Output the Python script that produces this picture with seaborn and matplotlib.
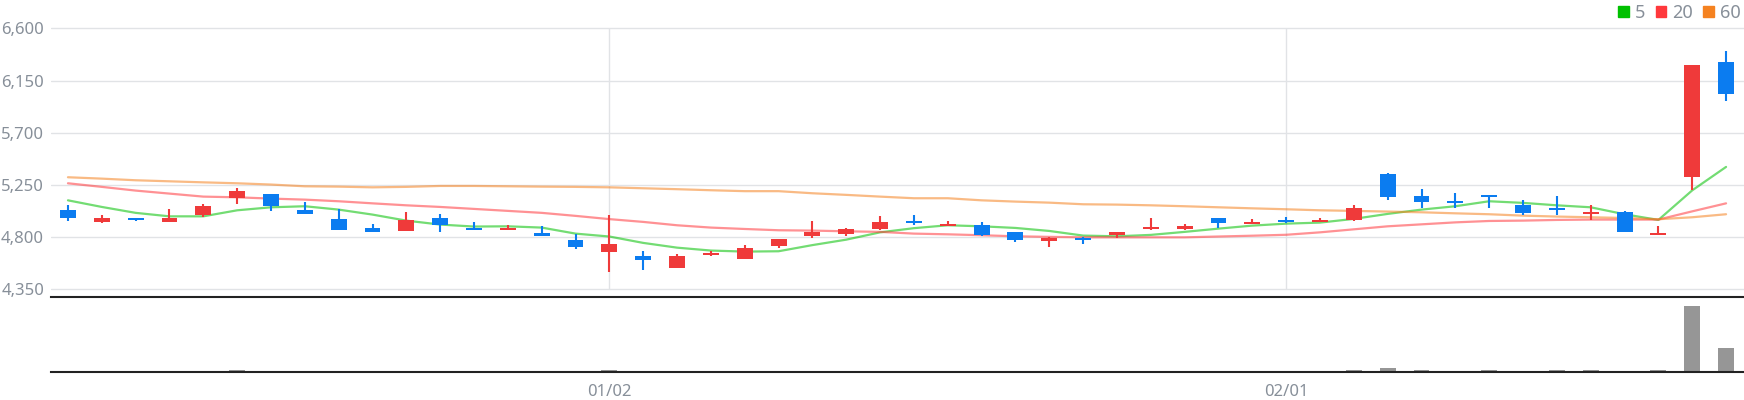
import numpy as np
import pandas as pd
import matplotlib
matplotlib.use('Agg')
import matplotlib.pyplot as plt
import seaborn as sns
from matplotlib.patches import Patch

# daily candles
open_ = [5037, 4928, 4968, 4933, 4994, 5134, 5175, 5037, 4960, 4882,
         4850, 4968, 4873, 4865, 4839, 4778, 4675, 4641, 4531, 4649,
         4615, 4721, 4813, 4830, 4873, 4942, 4893, 4908, 4847, 4770,
         4796, 4822, 4873, 4873, 4968, 4916, 4951, 4934, 4945, 5347,
         5158, 5115, 5166, 5080, 5054, 4997, 5020, 4822, 5316, 6309]
high = [5080, 4994, 4968, 5046, 5089, 5227, 5175, 5106, 5046, 4916,
        5020, 5003, 4934, 4908, 4899, 4830, 4994, 4684, 4650, 4684,
        4735, 4787, 4942, 4882, 4985, 4994, 4942, 4934, 4847, 4804,
        4804, 4847, 4968, 4916, 4968, 4959, 4977, 4968, 5080, 5356,
        5218, 5184, 5166, 5123, 5158, 5080, 5028, 4899, 6284, 6404]
low = [4942, 4919, 4942, 4933, 4971, 5083, 5028, 4997, 4859, 4841,
       4850, 4841, 4859, 4865, 4813, 4701, 4503, 4514, 4531, 4634,
       4615, 4709, 4796, 4813, 4865, 4908, 4893, 4813, 4761, 4718,
       4744, 4796, 4865, 4865, 4882, 4916, 4925, 4934, 4936, 5117,
       5054, 5054, 5054, 4988, 4994, 4951, 4847, 4822, 5209, 5976]
close = [4962, 4968, 4950, 4968, 5072, 5201, 5066, 4997, 4859, 4841,
         4951, 4908, 4859, 4882, 4813, 4712, 4744, 4600, 4641, 4666,
         4709, 4787, 4847, 4873, 4934, 4925, 4908, 4822, 4772, 4796,
         4778, 4847, 4891, 4899, 4925, 4934, 4934, 4951, 5054, 5143,
         5100, 5091, 5143, 5005, 5037, 5014, 4847, 4839, 6284, 6036]
volume = [2000, 2000, 2000, 2000, 2000, 20000, 2000, 2000, 2000, 2000,
          2000, 2000, 2000, 2000, 2000, 2000, 20000, 2000, 2000, 2000,
          2000, 2000, 2000, 2000, 2000, 2000, 2000, 2000, 2000, 2000,
          2000, 2000, 2000, 2000, 2000, 2000, 2000, 2000, 20000, 50000,
          20000, 2000, 20000, 2000, 20000, 20000, 2000, 20000, 1000000, 357000]

# moving averages as drawn
ma5 = [5117, 5060, 5009, 4979, 4979, 5031, 5057, 5066, 5037, 4994,
       4942, 4908, 4891, 4893, 4882, 4830, 4805, 4750, 4709, 4684,
       4675, 4678, 4731, 4778, 4841, 4877, 4902, 4893, 4879, 4853,
       4813, 4807, 4819, 4845, 4873, 4899, 4916, 4925, 4957, 5000,
       5037, 5066, 5109, 5095, 5074, 5057, 4997, 4948, 5203, 5405]
ma20 = [5264, 5233, 5201, 5175, 5149, 5143, 5132, 5123, 5109, 5091,
        5074, 5060, 5043, 5026, 5009, 4983, 4955, 4931, 4902, 4882,
        4870, 4859, 4856, 4850, 4845, 4830, 4824, 4816, 4807, 4802,
        4798, 4798, 4798, 4798, 4805, 4812, 4820, 4841, 4867, 4893,
        4910, 4927, 4939, 4942, 4948, 4951, 4951, 4951, 5022, 5091]
ma60 = [5316, 5304, 5290, 5281, 5272, 5264, 5253, 5238, 5235, 5229,
        5233, 5241, 5241, 5238, 5235, 5233, 5229, 5221, 5213, 5204,
        5196, 5196, 5178, 5164, 5149, 5135, 5135, 5117, 5106, 5097,
        5083, 5080, 5074, 5066, 5057, 5048, 5040, 5031, 5026, 5020,
        5014, 5005, 4997, 4985, 4977, 4971, 4965, 4954, 4971, 4997]

yticks = [4350, 4800, 5250, 5700, 6150, 6600]
tick_idx = [16, 36]
tick_labels = ['01/02', '02/01']
ma_names = ['5', '20', '60']
ma_colors = ['#00C000', '#FF383C', '#F58220']

RED = '#EF3A3A'
BLUE = '#0B7CF0'
TXT = '#878F99'
GRID = '#E1E3E6'

sns.set_theme(style="white")
plt.rcParams['font.family'] = ['Noto Sans', 'DejaVu Sans']

W, H = 1744, 400
fig = plt.figure(figsize=(W / 100, H / 100), dpi=100)
left = 50.7 / W
ax = fig.add_axes([left, 1 - 297 / H, 1 - left, (297 - 20) / H])
axv = fig.add_axes([left, 1 - 371.5 / H, 1 - left, (371.5 - 297) / H])

x = np.arange(len(close))
o = np.array(open_)
c = np.array(close)
cols = np.where(c >= o, RED, BLUE)

# -------- price panel --------
df = pd.DataFrame({'idx': x, '5': ma5, '20': ma20, '60': ma60})
for name, col in zip(ma_names, ma_colors):
    sns.lineplot(data=df, x='idx', y=name, color=col, alpha=0.55, lw=1.6,
                 ax=ax, zorder=2)

ax.vlines(x, low, high, colors=cols, lw=1.5, zorder=3)
ax.bar(x, np.maximum(np.abs(c - o), 16), bottom=np.minimum(o, c), width=0.47,
       color=cols, linewidth=0, zorder=4)

ax.set_xlim(-0.51, 49.53)
ax.set_ylim(4283.6, 6671.6)
ax.set_yticks(yticks)
ax.set_yticklabels([f"{v:,}" for v in yticks], color=TXT, fontsize=12,
                   fontweight='medium')
ax.tick_params(axis='y', length=0, pad=4.8)
ax.set_xticks([])
ax.set_xlabel('')
ax.set_ylabel('')
ax.grid(axis='y', color=GRID, lw=1.0)
ax.grid(axis='x', visible=False)
ax.vlines(tick_idx, yticks[0], yticks[-1], colors=GRID, lw=1.0, zorder=0)
ax.set_axisbelow(True)
for s in ax.spines.values():
    s.set_visible(False)

# -------- volume panel --------
sns.barplot(x=x, y=volume, native_scale=True, color='#969696', saturation=1,
            width=0.47, errorbar=None, linewidth=0, ax=axv)
axv.set_xlim(-0.51, 49.53)
axv.set_ylim(0, max(volume) * 1.141)
axv.set_yticks([])
axv.set_xticks(tick_idx)
axv.set_xticklabels(tick_labels, color=TXT, fontsize=12, fontweight='medium')
axv.tick_params(axis='x', length=5, width=1.3, color='#222222', pad=4.3, direction='out')
axv.set_xlabel('')
axv.set_ylabel('')
for s in ['left', 'right']:
    axv.spines[s].set_visible(False)
for s in ['top', 'bottom']:
    axv.spines[s].set_color('#222222')
    axv.spines[s].set_linewidth(1.5)

# legend
handles = [Patch(color=col, label=n) for n, col in zip(ma_names, ma_colors)]
fig.legend(handles=handles, loc='upper right', bbox_to_anchor=(1.0, 1.0),
           ncol=3, frameon=False, labelcolor=TXT,
           prop={'size': 13, 'weight': 'medium'},
           handlelength=0.6, handleheight=0.6, handletextpad=0.3,
           columnspacing=0.6, borderpad=0.15, borderaxespad=0.05)

fig.savefig('out.png', dpi=100)
